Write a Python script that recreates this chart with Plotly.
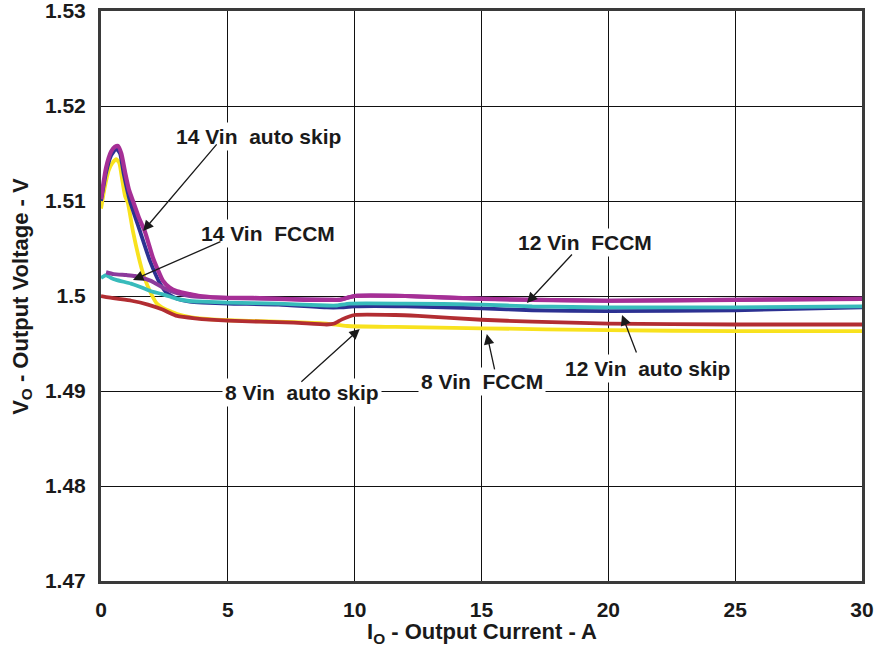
import plotly.graph_objects as go

# ---------------- data ----------------
i_14_skip = [0, 0.2, 0.4, 0.55, 0.67, 0.8, 0.95, 1.1, 1.26, 1.5, 1.73, 2.05, 2.25, 2.44, 2.7, 3.0, 3.5, 3.9, 5, 6, 7, 8, 9, 9.4, 10, 12, 13, 15, 17, 20, 25, 30]
v_14_skip = [1.5102, 1.5135, 1.5152, 1.5157, 1.5158, 1.5150, 1.5130, 1.5112, 1.5100, 1.5082, 1.5068, 1.5040, 1.5027, 1.5016, 1.5009, 1.5005, 1.5002, 1.5000, 1.4998, 1.4998, 1.4997, 1.4996, 1.4996, 1.4996, 1.5000, 1.5000, 1.4999, 1.4997, 1.4996, 1.4995, 1.4996, 1.4997]

i_14_fccm = [0.2, 0.5, 1.0, 1.34, 1.97, 2.5, 3.0, 3.5, 4, 5, 7, 9, 9.4, 10, 12, 15, 17, 20, 25, 30]
v_14_fccm = [1.5025, 1.5023, 1.5022, 1.5021, 1.5016, 1.5008, 1.5003, 1.5000, 1.4999, 1.4998, 1.4997, 1.4996, 1.4996, 1.5000, 1.5000, 1.4997, 1.4996, 1.4995, 1.4996, 1.4997]

i_12_skip = [0, 0.2, 0.4, 0.6, 0.75, 0.9, 1.14, 1.54, 1.93, 2.33, 2.6, 3.0, 3.5, 4, 5, 7, 8.9, 9.4, 10, 12, 15, 17, 20, 25, 30]
v_12_skip = [1.5100, 1.5130, 1.5148, 1.5155, 1.5150, 1.5128, 1.5100, 1.5068, 1.5037, 1.5013, 1.5003, 1.4997, 1.4994, 1.4993, 1.4992, 1.4991, 1.4988, 1.4988, 1.4989, 1.4989, 1.4987, 1.4985, 1.4984, 1.4985, 1.4988]

i_12_fccm = [0, 0.2, 0.4, 0.6, 1.18, 1.5, 1.97, 2.4, 2.76, 3.0, 3.4, 4, 5, 7, 8.9, 9.3, 9.8, 12, 15, 17, 20, 25, 30]
v_12_fccm = [1.5019, 1.5022, 1.5019, 1.5017, 1.5013, 1.5010, 1.5005, 1.5002, 1.4999, 1.4997, 1.4995, 1.4994, 1.4993, 1.4992, 1.4990, 1.4990, 1.4992, 1.4992, 1.4991, 1.4989, 1.4988, 1.4988, 1.4989]

i_8_fccm = [0, 0.55, 1.2, 1.85, 2.4, 3.0, 3.7, 5, 7.6, 8.9, 9.2, 9.5, 10, 11.6, 12.5, 15, 17, 20, 25, 30]
v_8_fccm = [1.5000, 1.49975, 1.4995, 1.4991, 1.4986, 1.4979, 1.49765, 1.4974, 1.4972, 1.4970, 1.4971, 1.49754, 1.4980, 1.4980, 1.4979, 1.4975, 1.4973, 1.4971, 1.4970, 1.4970]

i_8_skip = [0, 0.15, 0.3, 0.45, 0.6, 0.72, 0.85, 0.95, 1.06, 1.26, 1.6, 1.73, 1.93, 2.2, 2.4, 3.0, 3.7, 5, 7.6, 8.9, 9.7, 11.6, 15, 20, 25, 30]
v_8_skip = [1.5092, 1.5115, 1.5132, 1.5140, 1.5144, 1.5140, 1.5120, 1.5105, 1.5098, 1.5068, 1.5029, 1.5018, 1.5005, 1.4992, 1.4988, 1.4981, 1.4977, 1.49745, 1.49725, 1.4971, 1.49684, 1.49674, 1.4966, 1.4964, 1.4963, 1.4963]

x_ticks = [0, 5, 10, 15, 20, 25, 30]
x_tick_labels = ["0", "5", "10", "15", "20", "25", "30"]
y_ticks = [1.47, 1.48, 1.49, 1.50, 1.51, 1.52, 1.53]
y_tick_labels = ["1.47", "1.48", "1.49", "1.5", "1.51", "1.52", "1.53"]

x_title = "I<sub>O</sub> - Output Current - A"
y_title = "V<sub>O</sub> - Output Voltage - V"

# label text, label centre (x, y), arrow tail (x, y), arrow tip (x, y)
labels = ["14 Vin\u00a0 auto skip", "14 Vin\u00a0 FCCM", "12 Vin\u00a0 FCCM",
          "12 Vin\u00a0 auto skip", "8 Vin\u00a0 FCCM", "8 Vin\u00a0 auto skip"]
label_x = [6.19, 6.58, 19.08, 21.56, 15.02, 7.92]
label_y = [1.51674, 1.50663, 1.50568, 1.49242, 1.49095, 1.48989]
tail_x = [4.61, 4.77, 18.62, 21.13, 15.53, 7.84]
tail_y = [1.51611, 1.50579, 1.50453, 1.49389, 1.49211, 1.49084]
tip_x = [1.66, 1.26, 16.79, 20.54, 15.21, 10.2]
tip_y = [1.50684, 1.50168, 1.49926, 1.4980, 1.4960, 1.49653]

FONT = "Liberation Sans, Arial, sans-serif"
INK = "#1a1a1a"

fig = go.Figure()

series = [
    (i_8_skip, v_8_skip, "#F8E21E", 3.8),
    (i_8_fccm, v_8_fccm, "#B22D32", 3.8),
    (i_12_skip, v_12_skip, "#2C3192", 3.8),
    (i_12_fccm, v_12_fccm, "#38BBBB", 3.8),
    (i_14_fccm, v_14_fccm, "#8C3A9C", 4.0),
    (i_14_skip, v_14_skip, "#A62F96", 4.2),
]
for xs, ys, col, w in series:
    fig.add_trace(go.Scatter(x=xs, y=ys, mode="lines",
                             line=dict(color=col, width=w, shape="spline", smoothing=0.5),
                             showlegend=False, hoverinfo="skip"))

for t, lx, ly in zip(labels, label_x, label_y):
    fig.add_annotation(x=lx, y=ly, text=t, showarrow=False, bgcolor="white",
                       borderpad=2,
                       font=dict(family=FONT, size=21, color=INK, weight=700))

for ax_, ay_, x_, y_ in zip(tail_x, tail_y, tip_x, tip_y):
    fig.add_annotation(x=x_, y=y_, ax=ax_, ay=ay_, axref="x", ayref="y",
                       text="", showarrow=True, arrowhead=2, arrowsize=1.6,
                       arrowwidth=1.3, arrowcolor=INK)

# axis titles placed in paper coordinates
fig.add_annotation(x=0.5, y=-0.092, xref="paper", yref="paper", text=x_title,
                   showarrow=False, xanchor="center", yanchor="middle",
                   font=dict(family=FONT, size=22, color=INK, weight=700))
fig.add_annotation(x=-0.104, y=0.5, xref="paper", yref="paper", text=y_title,
                   showarrow=False, xanchor="center", yanchor="middle", textangle=-90,
                   font=dict(family=FONT, size=22, color=INK, weight=700))

fig.update_layout(
    width=876, height=646,
    margin=dict(l=101, r=14, t=11, b=65),
    paper_bgcolor="white", plot_bgcolor="white",
    showlegend=False,
    font=dict(family=FONT, color=INK),
)
fig.update_xaxes(
    range=[0, 30], tickvals=x_ticks, ticktext=x_tick_labels,
    showgrid=True, gridcolor="#111111", gridwidth=1,
    zeroline=False, showline=True, linecolor="#3a3a3a", linewidth=3, mirror=True,
    ticks="", ticklabelstandoff=8, automargin=False, ticklabeloverflow="allow",
    tickfont=dict(family=FONT, size=21, color=INK, weight=700),
)
fig.update_yaxes(
    range=[1.47, 1.53], tickvals=y_ticks, ticktext=y_tick_labels,
    showgrid=True, gridcolor="#111111", gridwidth=1,
    zeroline=False, showline=True, linecolor="#3a3a3a", linewidth=3, mirror=True,
    ticks="", ticklabelstandoff=8, automargin=False, ticklabeloverflow="allow",
    tickfont=dict(family=FONT, size=21, color=INK, weight=700),
)

# remove the default 8px page margin so the 876x646 figure fills the window exactly
fig.write_html("out.html",
               config={"displayModeBar": False},
               post_script="document.body.style.margin='0';document.body.style.overflow='hidden';")
